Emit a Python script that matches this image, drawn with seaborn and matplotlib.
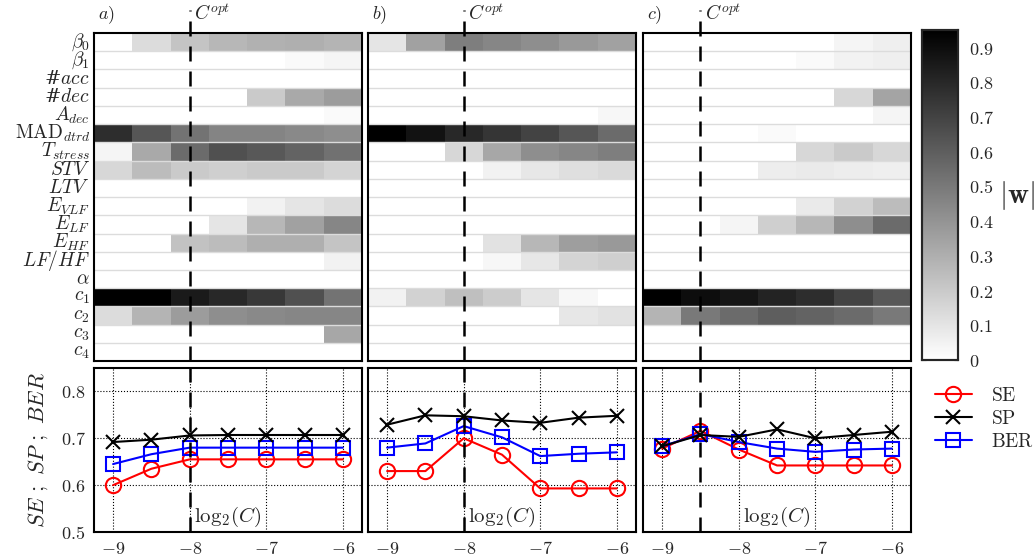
import numpy as np
import pandas as pd
import matplotlib
matplotlib.use('Agg')
import matplotlib.pyplot as plt
import seaborn as sns

# log2(C) grid
log2c = [-9, -8.5, -8, -7.5, -7, -6.5, -6]

features = [r'$\beta_0$', r'$\beta_1$', r'#$acc$', r'#$dec$', r'$A_{dec}$',
            r'$\mathrm{MAD}_{dtrd}$', r'$T_{stress}$', r'$STV$', r'$LTV$',
            r'$E_{VLF}$', r'$E_{LF}$', r'$E_{HF}$', r'$LF/HF$', r'$\alpha$',
            r'$c_1$', r'$c_2$', r'$c_3$', r'$c_4$']

# |w| per feature (rows) and log2(C) (columns)
w_a = [
    [0.00, 0.13, 0.22, 0.27, 0.29, 0.30, 0.28],
    [0.00, 0.00, 0.00, 0.00, 0.00, 0.02, 0.04],
    [0.00, 0.00, 0.00, 0.00, 0.00, 0.00, 0.00],
    [0.00, 0.00, 0.00, 0.00, 0.20, 0.32, 0.37],
    [0.00, 0.00, 0.00, 0.00, 0.00, 0.00, 0.02],
    [0.78, 0.63, 0.52, 0.46, 0.46, 0.44, 0.42],
    [0.04, 0.32, 0.55, 0.65, 0.62, 0.58, 0.53],
    [0.15, 0.25, 0.20, 0.18, 0.20, 0.20, 0.16],
    [0.00, 0.00, 0.00, 0.00, 0.00, 0.00, 0.00],
    [0.00, 0.00, 0.00, 0.00, 0.05, 0.10, 0.13],
    [0.00, 0.00, 0.00, 0.10, 0.27, 0.35, 0.45],
    [0.00, 0.00, 0.23, 0.25, 0.30, 0.30, 0.22],
    [0.00, 0.00, 0.00, 0.00, 0.00, 0.00, 0.05],
    [0.00, 0.00, 0.00, 0.00, 0.00, 0.00, 0.00],
    [0.95, 0.95, 0.85, 0.80, 0.74, 0.65, 0.52],
    [0.13, 0.28, 0.37, 0.42, 0.44, 0.45, 0.45],
    [0.00, 0.00, 0.00, 0.00, 0.00, 0.00, 0.33],
    [0.00, 0.00, 0.00, 0.00, 0.00, 0.00, 0.00],
]
w_b = [
    [0.10, 0.35, 0.48, 0.45, 0.42, 0.38, 0.35],
    [0.00, 0.00, 0.00, 0.00, 0.00, 0.00, 0.00],
    [0.00, 0.00, 0.00, 0.00, 0.00, 0.00, 0.00],
    [0.00, 0.00, 0.00, 0.00, 0.00, 0.00, 0.00],
    [0.00, 0.00, 0.00, 0.00, 0.00, 0.00, 0.03],
    [0.95, 0.88, 0.80, 0.75, 0.70, 0.63, 0.55],
    [0.00, 0.00, 0.15, 0.33, 0.42, 0.45, 0.48],
    [0.00, 0.00, 0.00, 0.05, 0.09, 0.12, 0.14],
    [0.00, 0.00, 0.00, 0.00, 0.00, 0.00, 0.00],
    [0.00, 0.00, 0.00, 0.00, 0.00, 0.00, 0.00],
    [0.00, 0.00, 0.00, 0.00, 0.00, 0.00, 0.00],
    [0.00, 0.00, 0.00, 0.11, 0.27, 0.36, 0.38],
    [0.00, 0.00, 0.00, 0.03, 0.09, 0.16, 0.18],
    [0.00, 0.00, 0.00, 0.00, 0.00, 0.00, 0.00],
    [0.05, 0.17, 0.24, 0.19, 0.10, 0.03, 0.00],
    [0.00, 0.00, 0.00, 0.00, 0.00, 0.09, 0.11],
    [0.00, 0.00, 0.00, 0.00, 0.00, 0.00, 0.00],
    [0.00, 0.00, 0.00, 0.00, 0.00, 0.00, 0.00],
]
w_c = [
    [0.00, 0.00, 0.00, 0.00, 0.00, 0.04, 0.06],
    [0.00, 0.00, 0.00, 0.00, 0.02, 0.05, 0.06],
    [0.00, 0.00, 0.00, 0.00, 0.00, 0.00, 0.00],
    [0.00, 0.00, 0.00, 0.00, 0.00, 0.15, 0.34],
    [0.00, 0.00, 0.00, 0.00, 0.00, 0.00, 0.04],
    [0.00, 0.00, 0.00, 0.02, 0.00, 0.00, 0.00],
    [0.00, 0.00, 0.00, 0.00, 0.15, 0.20, 0.15],
    [0.00, 0.00, 0.00, 0.07, 0.08, 0.07, 0.06],
    [0.00, 0.00, 0.00, 0.00, 0.00, 0.00, 0.00],
    [0.00, 0.00, 0.00, 0.00, 0.08, 0.17, 0.25],
    [0.00, 0.00, 0.04, 0.18, 0.27, 0.42, 0.55],
    [0.00, 0.00, 0.00, 0.00, 0.00, 0.00, 0.00],
    [0.00, 0.00, 0.00, 0.00, 0.00, 0.00, 0.00],
    [0.00, 0.00, 0.00, 0.00, 0.00, 0.00, 0.00],
    [0.95, 0.90, 0.87, 0.82, 0.78, 0.70, 0.62],
    [0.28, 0.50, 0.55, 0.60, 0.58, 0.55, 0.50],
    [0.00, 0.00, 0.00, 0.00, 0.00, 0.00, 0.00],
    [0.00, 0.00, 0.00, 0.00, 0.00, 0.00, 0.00],
]

# performance curves
se_a = [0.600, 0.635, 0.655, 0.655, 0.655, 0.655, 0.655]
sp_a = [0.692, 0.697, 0.706, 0.707, 0.707, 0.707, 0.707]
ber_a = [0.645, 0.666, 0.680, 0.680, 0.680, 0.680, 0.680]

se_b = [0.630, 0.630, 0.700, 0.665, 0.593, 0.593, 0.593]
sp_b = [0.729, 0.749, 0.747, 0.738, 0.733, 0.744, 0.748]
ber_b = [0.680, 0.689, 0.726, 0.702, 0.662, 0.667, 0.670]

se_c = [0.678, 0.716, 0.676, 0.642, 0.642, 0.642, 0.642]
sp_c = [0.683, 0.707, 0.703, 0.719, 0.700, 0.707, 0.714]
ber_c = [0.683, 0.709, 0.692, 0.678, 0.671, 0.676, 0.678]

c_opt = [-8, -8, -8.5]
panel_names = ['a)', 'b)', 'c)']

sns.set_style('white')
plt.rcParams['font.family'] = ['DejaVu Serif']
plt.rcParams['mathtext.fontset'] = 'cm'

fig = plt.figure(figsize=(10.36, 5.59), dpi=100)

lefts = [0.0907, 0.3552, 0.6207]
width = 0.2587
cax = fig.add_axes([0.890, 0.356, 0.0347, 0.590])

weights = [w_a, w_b, w_c]
curves = [(se_a, sp_a, ber_a), (se_b, sp_b, ber_b), (se_c, sp_c, ber_c)]

for i in range(3):
    ax = fig.add_axes([lefts[i], 0.354, width, 0.587])
    df = pd.DataFrame(weights[i], index=features, columns=log2c)
    sns.heatmap(df, ax=ax, cmap='gray_r', vmin=0, vmax=0.95,
                cbar=(i == 2), cbar_ax=cax if i == 2 else None,
                xticklabels=False, yticklabels=(i == 0))
    nrow, ncol = df.shape
    ax.hlines(np.arange(1, nrow), 0, ncol, color='#dcdcdc', lw=1.0)
    for s in ax.spines.values():
        s.set_visible(True)
        s.set_linewidth(1.5)
        s.set_color('black')
    ax.tick_params(axis='y', length=0, labelsize=14, pad=3)
    ax.tick_params(axis='x', length=0)
    if i == 0:
        plt.setp(ax.get_yticklabels(), rotation=0, ha='right', va='center')

    xpos = log2c.index(c_opt[i]) + 0.5
    ax.plot([xpos, xpos], [nrow, -1.25], color='black', lw=1.8,
            dashes=(6, 4), clip_on=False)
    ax.text(xpos + 0.12, -0.5, r'$C^{opt}$', fontsize=14, va='bottom', ha='left')
    ax.text(0.1, -0.4, '$' + panel_names[i] + '$', fontsize=13, va='bottom', ha='left')

    # bottom panel
    bx = fig.add_axes([lefts[i], 0.0483, width, 0.2934])
    se, sp, ber = curves[i]
    sns.lineplot(x=log2c, y=se, ax=bx, color='red', marker='o', ms=11,
                 mfc='none', mec='red', mew=1.5, lw=1.5, label=r'$\mathrm{SE}$')
    sns.lineplot(x=log2c, y=ber, ax=bx, color='blue', marker='s', ms=10,
                 mfc='none', mec='blue', mew=1.5, lw=1.5, label=r'$\mathrm{BER}$')
    sns.lineplot(x=log2c, y=sp, ax=bx, color='black', marker='x', ms=10,
                 mec='black', mew=1.5, lw=1.5, label=r'$\mathrm{SP}$')
    bx.axvline(c_opt[i], color='black', lw=1.8, dashes=(6, 4))
    bx.set_xlim(-9.25, -5.75)
    bx.set_ylim(0.5, 0.85)
    bx.set_xticks([-9, -8, -7, -6])
    bx.set_xticklabels([r'$-9$', r'$-8$', r'$-7$', r'$-6$'], fontsize=13)
    bx.set_yticks([0.5, 0.6, 0.7, 0.8])
    if i == 0:
        bx.set_yticklabels([r'$0.5$', r'$0.6$', r'$0.7$', r'$0.8$'], fontsize=13)
        bx.set_ylabel(r'$SE\ ;\ SP\ ;\ BER$', fontsize=16, labelpad=8)
    else:
        bx.set_yticklabels([])
    bx.grid(True, color='black', ls=':', lw=0.8)
    bx.tick_params(direction='in', length=3, pad=6)
    for s in bx.spines.values():
        s.set_visible(True)
        s.set_linewidth(1.5)
        s.set_color('black')
    bx.text(0.5, 0.02, r'$\mathrm{log}_2(C)$', transform=bx.transAxes, fontsize=15,
            ha='center', va='bottom')
    handles, labels = bx.get_legend_handles_labels()
    bx.get_legend().remove()
    if i == 2:
        order = [0, 2, 1]
        bx.legend([handles[k] for k in order], [labels[k] for k in order],
                  loc='upper left', bbox_to_anchor=(1.06, 0.93), frameon=False,
                  fontsize=14, handlelength=1.9, handletextpad=1.0,
                  labelspacing=0.25, borderaxespad=0)

cax.set_yticks([0, 0.1, 0.2, 0.3, 0.4, 0.5, 0.6, 0.7, 0.8, 0.9])
cax.set_yticklabels([r'$0$', r'$0.1$', r'$0.2$', r'$0.3$', r'$0.4$', r'$0.5$',
                     r'$0.6$', r'$0.7$', r'$0.8$', r'$0.9$'], fontsize=13)
cax.tick_params(direction='in', length=3, left=True, right=True, pad=8)
for s in cax.spines.values():
    s.set_visible(True)
    s.set_linewidth(1.5)
cax.text(2.65, 0.5, r'$|\mathbf{w}|$', transform=cax.transAxes, fontsize=21,
         ha='center', va='center')

fig.savefig('out.png', dpi=100)
